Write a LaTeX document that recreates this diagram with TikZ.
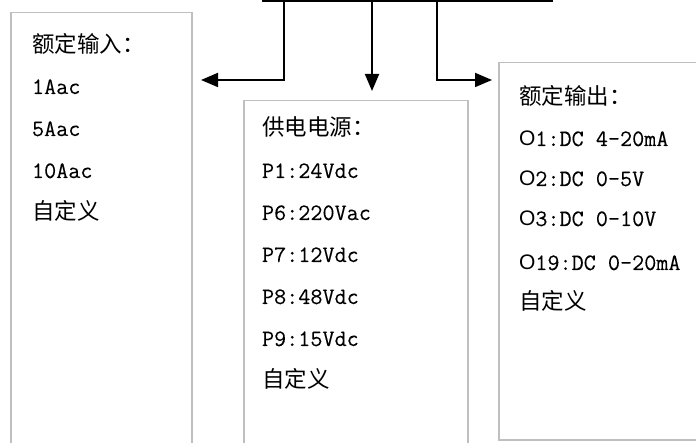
\documentclass[tikz,border=0pt]{standalone}
\usepackage{fontspec}
\usetikzlibrary{arrows.meta}
\newfontfamily\cnfont{Noto Sans CJK SC}
\newfontfamily\ofont{Liberation Sans}
\newfontfamily\latfont[FakeBold=0.12]{Latin Modern Mono}
\definecolor{boxgray}{HTML}{BFBFBF}
\newcommand{\zh}[1]{{\cnfont\fontsize{22.5}{26}\selectfont #1}}
\newcommand{\lat}[1]{{\latfont\fontsize{23.5}{26}\selectfont #1}}
\newcommand{\Oh}{{\ofont\fontsize{21}{24}\selectfont O}}
\tikzset{
  box/.style={draw=boxgray, line width=1.5pt, fill=white, rectangle, anchor=north west, inner sep=0pt},
  txt/.style={anchor=base west, inner sep=0pt, outer sep=0pt},
  wire/.style={draw=black, line width=1.8pt},
  arr/.style={wire, -{Triangle[length=17pt,width=14pt]}},
}
\begin{document}
\begin{tikzpicture}[x=1pt,y=-1pt]
\useasboundingbox (0,0) rectangle (696,443);
\clip (0,0) rectangle (696,443);
% boxes
\node[box, minimum width=181pt, minimum height=500pt] (inbox) at (10,12) {};
\node[box, minimum width=224pt, minimum height=420pt] (pwrbox) at (243,100) {};
\node[box, minimum width=260pt, minimum height=377pt] (outbox) at (498,62) {};
% left box text
\node[txt] (i0) at (32,53) {\zh{额定输入：}};
\node[txt] (i1) at (32,94) {\lat{1Aac}};
\node[txt] (i2) at (32,136) {\lat{5Aac}};
\node[txt] (i3) at (32,178) {\lat{10Aac}};
\node[txt] (i4) at (32,220) {\zh{自定义}};
% middle box text
\node[txt] (p0) at (262,136) {\zh{供电电源：}};
\node[txt] (p1) at (262,178) {\lat{P1:24Vdc}};
\node[txt] (p2) at (262,220) {\lat{P6:220Vac}};
\node[txt] (p3) at (262,262) {\lat{P7:12Vdc}};
\node[txt] (p4) at (262,304) {\lat{P8:48Vdc}};
\node[txt] (p5) at (262,346) {\lat{P9:15Vdc}};
\node[txt] (p6) at (262,388) {\zh{自定义}};
% right box text
\node[txt] (o0) at (519,105) {\zh{额定输出：}};
\node[txt] (o1) at (519,146) {\Oh\lat{1:DC 4-20mA}};
\node[txt] (o2) at (519,186) {\Oh\lat{2:DC 0-5V}};
\node[txt] (o3) at (519,226) {\Oh\lat{3:DC 0-10V}};
\node[txt] (o4) at (519,270) {\Oh\lat{19:DC 0-20mA}};
\node[txt] (o5) at (519,310) {\zh{自定义}};
% connectors
\coordinate (tl) at (262,0.9);
\coordinate (tr) at (553,0.9);
\coordinate (b1) at (284,0.9);
\coordinate (b2) at (372,0.9);
\coordinate (b3) at (437,0.9);
\coordinate (a1) at (201,80);
\coordinate (a2) at (372,91);
\coordinate (a3) at (492,80);
\draw[wire] (tl) -- (tr);
\draw[arr] (b1) |- (a1);
\draw[arr] (b2) -- (a2);
\draw[arr] (b3) |- (a3);
\end{tikzpicture}
\end{document}
